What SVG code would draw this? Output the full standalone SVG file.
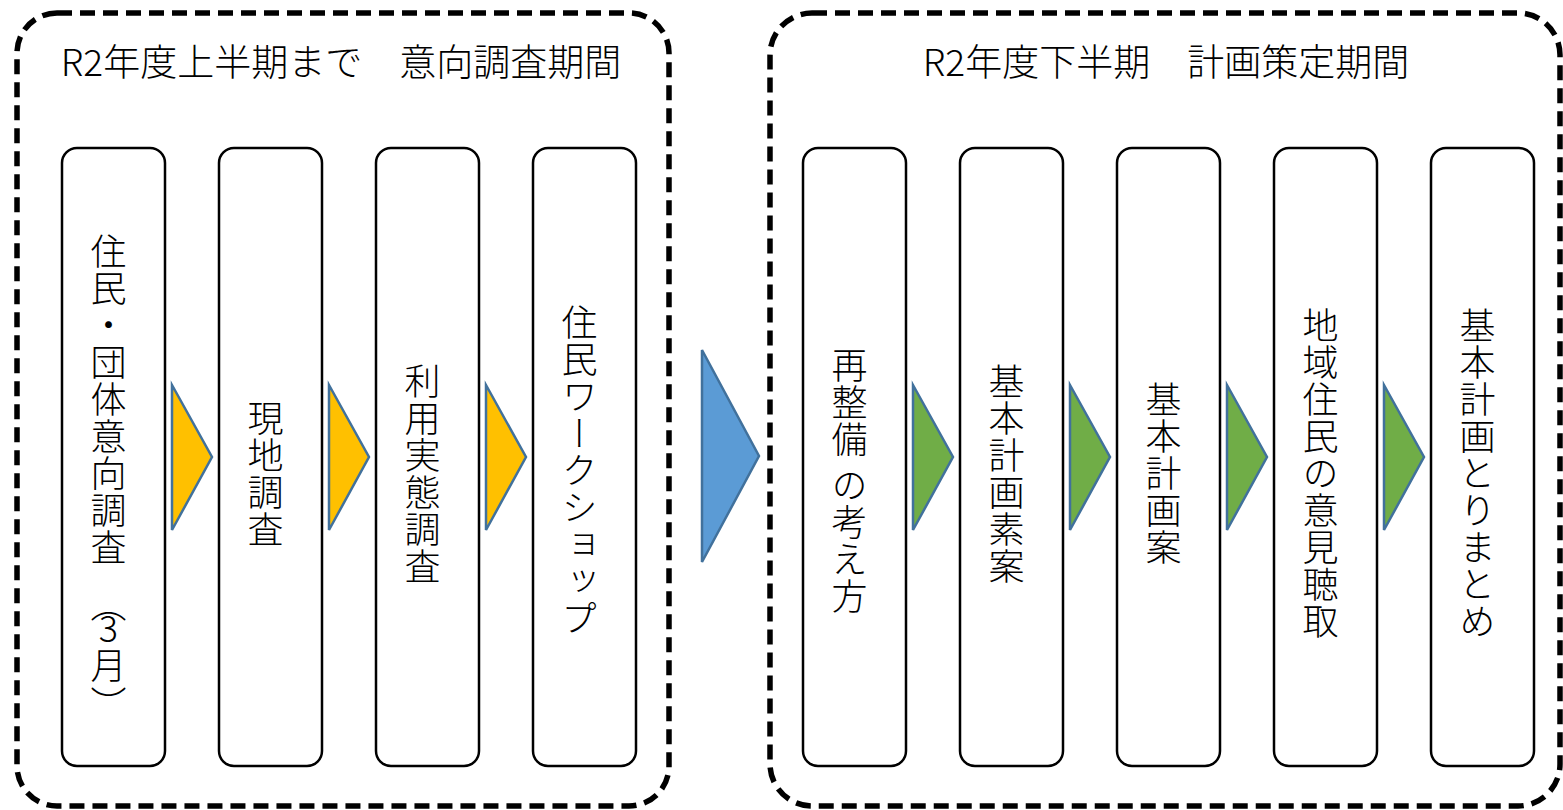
<svg xmlns="http://www.w3.org/2000/svg" width="1563" height="810" viewBox="0 0 1563 810">
<style>
.frame{fill:none;stroke:#000;stroke-width:5.5;stroke-dasharray:15 8}
.box{fill:#fff;stroke:#000;stroke-width:2.5}
.title{font-family:"Noto Sans CJK JP","Noto Sans",sans-serif;font-size:37px;font-weight:300;fill:#000;text-anchor:middle}
.vt{font-family:"Noto Sans CJK JP","Noto Sans",sans-serif;font-size:36px;font-weight:300;fill:#000;writing-mode:vertical-rl;text-orientation:upright;letter-spacing:1px}
.mixed{text-orientation:mixed}
.mid{text-anchor:middle}
.yel{fill:#FFC000;stroke:#41719C;stroke-width:2.5}
.blu{fill:#5B9BD5;stroke:#41719C;stroke-width:2.5}
.grn{fill:#70AD47;stroke:#41719C;stroke-width:2.5}
</style>
<rect width="1563" height="810" fill="#fff"/>
<g id="frame-left">
<rect class="frame" x="17" y="13" width="652" height="793" rx="40" ry="40"/>
<text class="title" x="341" y="76">R2年度上半期まで　意向調査期間</text>
</g>
<g id="frame-right">
<rect class="frame" x="770" y="13" width="790" height="793" rx="42" ry="42"/>
<text class="title" x="1166" y="76">R2年度下半期　計画策定期間</text>
</g>
<g id="n1"><rect class="box" x="62" y="148" width="103" height="618" rx="15"/>
<text class="vt" x="108.5" y="233">住民・団体意向調査</text>
<text class="vt" x="108.5" y="586">（</text>
<text class="vt" x="108.5" y="610">3月</text>
<text class="vt" x="108.5" y="686">）</text>
</g>
<g id="n2"><rect class="box" x="219" y="148" width="103" height="618" rx="15"/><text class="vt mid" x="265.5" y="474">現地調査</text></g>
<g id="n3"><rect class="box" x="376" y="148" width="103" height="618" rx="15"/><text class="vt mid" x="422.5" y="474">利用実態調査</text></g>
<g id="n4"><rect class="box" x="533" y="148" width="103" height="618" rx="15"/><text class="vt mid" x="579.5" y="471">住民ワークショップ</text></g>
<g id="n5"><rect class="box" x="803" y="148" width="103" height="618" rx="15"/><text class="vt mid mixed" x="849.5" y="481">再整備 の考え方</text></g>
<g id="n6"><rect class="box" x="960" y="148" width="103" height="618" rx="15"/><text class="vt mid" x="1006.5" y="474">基本計画素案</text></g>
<g id="n7"><rect class="box" x="1117" y="148" width="103" height="618" rx="15"/><text class="vt mid" x="1163.5" y="474">基本計画案</text></g>
<g id="n8"><rect class="box" x="1274" y="148" width="103" height="618" rx="15"/><text class="vt mid" x="1320.5" y="474">地域住民の意見聴取</text></g>
<g id="n9"><rect class="box" x="1431" y="148" width="103" height="618" rx="15"/><text class="vt mid" x="1477.5" y="474">基本計画とりまとめ</text></g>
<g id="connectors">
<polygon class="yel" points="172,385 212,457 172,530"/>
<polygon class="yel" points="329,385 369,457 329,530"/>
<polygon class="yel" points="486,385 526,457 486,530"/>
<polygon class="blu" points="702,350 759,456 702,562"/>
<polygon class="grn" points="913,385 953,457 913,530"/>
<polygon class="grn" points="1070,385 1110,457 1070,530"/>
<polygon class="grn" points="1227,385 1267,457 1227,530"/>
<polygon class="grn" points="1384,385 1424,457 1384,530"/>
</g>
</svg>
